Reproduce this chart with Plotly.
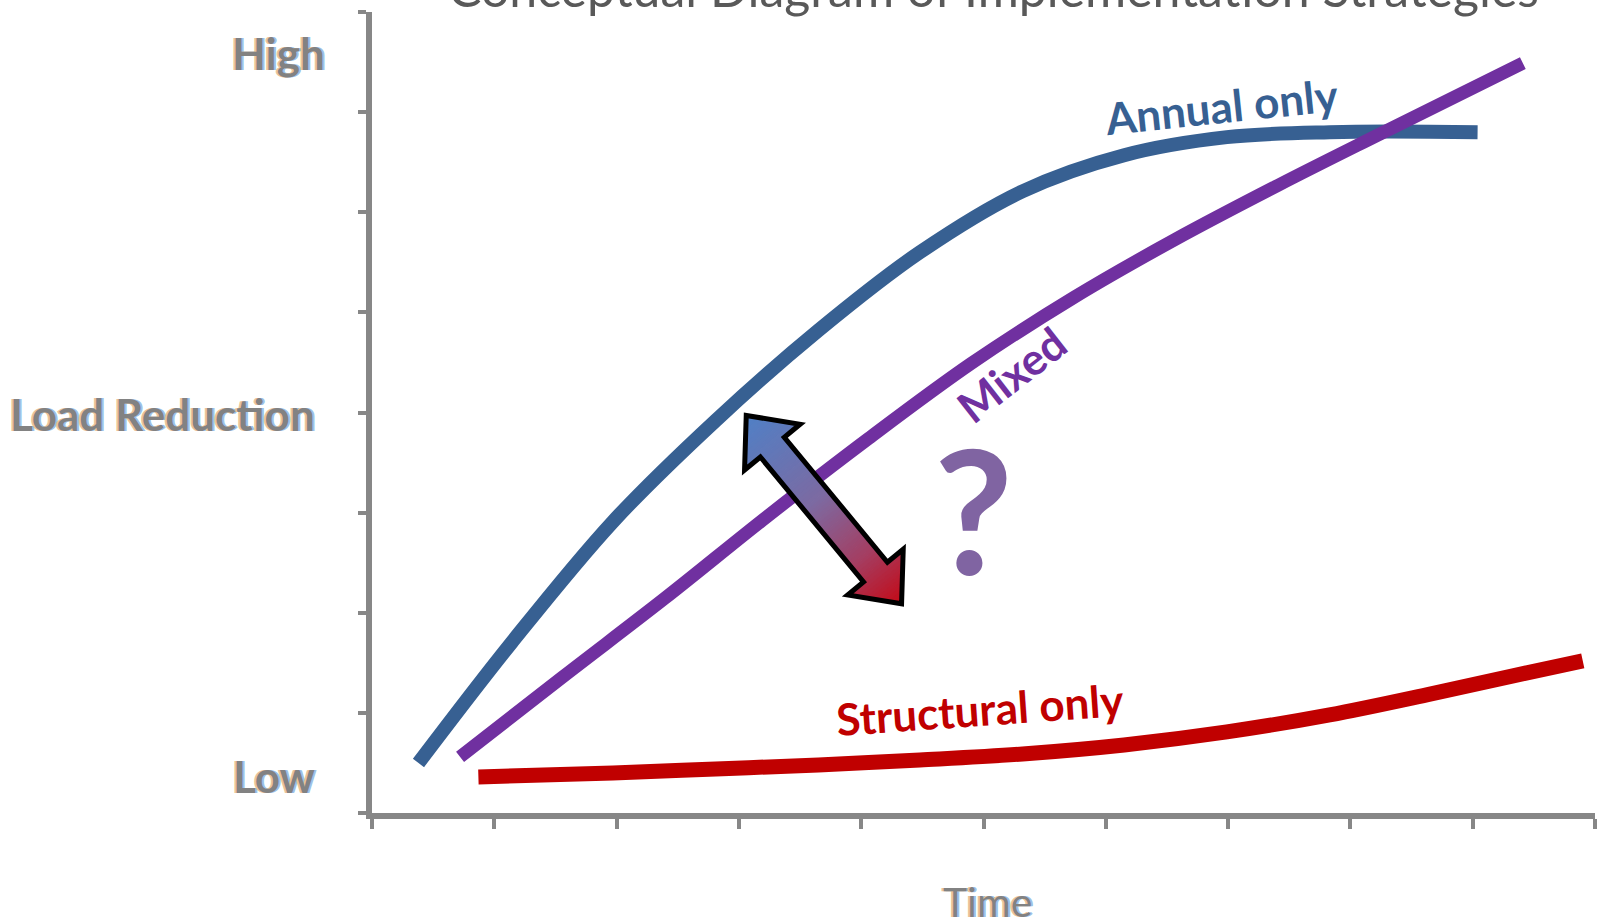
import plotly.graph_objects as go

# ---- canvas / plot area -------------------------------------------------
W, H = 1603, 920
M_L, M_R, M_T, M_B = 372, 8, 12, 107
X_RANGE = (0, 10)
Y_RANGE = (0, 8)

# ---- data ---------------------------------------------------------------
x_ticks = list(range(0, 11))
y_ticks = list(range(0, 9))

annual_x = [0.38, 1.14, 1.97, 2.81, 3.65, 4.48, 5.32, 6.15, 6.99, 7.83, 9.04]
annual_y = [0.50, 1.70, 2.91, 3.92, 4.82, 5.60, 6.21, 6.57, 6.75, 6.80, 6.80]

mixed_x = [0.72, 1.56, 2.39, 3.23, 4.06, 4.90, 5.74, 6.57, 7.41, 8.24, 9.41]
mixed_y = [0.56, 1.36, 2.14, 2.96, 3.74, 4.49, 5.15, 5.73, 6.27, 6.78, 7.49]

structural_x = [0.87, 1.97, 2.81, 3.65, 4.48, 5.32, 6.15, 6.99, 7.83, 8.66, 9.33, 9.90]
structural_y = [0.36, 0.40, 0.44, 0.48, 0.53, 0.59, 0.68, 0.81, 0.98, 1.19, 1.37, 1.52]

y_level_labels = ["High", "Load Reduction", "Low"]
y_level_pos = [7.59, 3.99, 0.37]
y_level_right_px = [327, 317, 317]

# double-headed arrow between the two strategy extremes (data units)
arrow_tip_a = (3.06, 3.97)
arrow_tip_b = (4.33, 2.09)

# ---- colours ------------------------------------------------------------
C_ANNUAL = "#376092"
C_MIXED = "#7030A0"
C_STRUCT = "#C00000"
C_QUESTION = "#8064A2"
C_AXIS = "#878787"
C_LABEL = "#828282"
C_TITLE = "#595959"
FONT = "Lato"
FRINGE = "-2px 0px 0px #EBC39A, 2px 0px 0px #9EC2E8"

fig = go.Figure()

series = [
    (annual_x, annual_y, C_ANNUAL, 14),
    (mixed_x, mixed_y, C_MIXED, 13),
    (structural_x, structural_y, C_STRUCT, 15),
]
for xs, ys, col, lw in series:
    fig.add_trace(go.Scatter(
        x=xs, y=ys, mode="lines",
        line=dict(color=col, width=lw, shape="spline", smoothing=1.0),
        hoverinfo="skip", showlegend=False,
    ))

# ---- gradient-filled double arrow -----------------------------------------
plot_w = W - M_L - M_R
plot_h = H - M_T - M_B
px_x = plot_w / (X_RANGE[1] - X_RANGE[0])
px_y = plot_h / (Y_RANGE[1] - Y_RANGE[0])


def to_px(x, y):
    return ((x - X_RANGE[0]) * px_x, -(y - Y_RANGE[0]) * px_y)


def to_data(px, py):
    return (px / px_x + X_RANGE[0], -py / px_y + Y_RANGE[0])


ax_, ay_ = to_px(*arrow_tip_a)
bx_, by_ = to_px(*arrow_tip_b)
L = ((bx_ - ax_) ** 2 + (by_ - ay_) ** 2) ** 0.5
ux, uy = (bx_ - ax_) / L, (by_ - ay_) / L
nx, ny = -uy, ux

HEAD_LEN, HEAD_HALF, SHAFT_HALF = 41.0, 36.0, 15.5
local_poly = [
    (0, 0), (HEAD_LEN, HEAD_HALF), (HEAD_LEN, SHAFT_HALF),
    (L - HEAD_LEN, SHAFT_HALF), (L - HEAD_LEN, HEAD_HALF), (L, 0),
    (L - HEAD_LEN, -HEAD_HALF), (L - HEAD_LEN, -SHAFT_HALF),
    (HEAD_LEN, -SHAFT_HALF), (HEAD_LEN, -HEAD_HALF),
]


def local_to_data(s, w):
    px = ax_ + s * ux + w * nx
    py = ay_ + s * uy + w * ny
    return to_data(px, py)


def clip(poly, s_lim, keep_greater):
    out = []
    n = len(poly)
    for i in range(n):
        p, q = poly[i], poly[(i + 1) % n]
        pin = p[0] >= s_lim if keep_greater else p[0] <= s_lim
        qin = q[0] >= s_lim if keep_greater else q[0] <= s_lim
        if pin:
            out.append(p)
        if pin != qin:
            t = (s_lim - p[0]) / (q[0] - p[0])
            out.append((s_lim, p[1] + t * (q[1] - p[1])))
    return out


def path_of(poly):
    pts = [local_to_data(s, w) for s, w in poly]
    return "M " + " L ".join(f"{x:.5f},{y:.5f}" for x, y in pts) + " Z"


grad_stops = [(0.0, (80, 128, 198)), (0.45, (124, 106, 162)),
              (0.75, (164, 62, 98)), (1.0, (196, 10, 22))]


def grad_color(t):
    for (t0, c0), (t1, c1) in zip(grad_stops[:-1], grad_stops[1:]):
        if t <= t1:
            f = (t - t0) / (t1 - t0)
            c = [round(a + (b - a) * f) for a, b in zip(c0, c1)]
            return f"rgb({c[0]},{c[1]},{c[2]})"
    c = grad_stops[-1][1]
    return f"rgb({c[0]},{c[1]},{c[2]})"


N_STRIPS = 70
for i in range(N_STRIPS):
    s0 = L * i / N_STRIPS
    s1 = min(L, L * (i + 1) / N_STRIPS + 0.8)
    piece = clip(clip(local_poly, s0, True), s1, False)
    if len(piece) < 3:
        continue
    fig.add_shape(type="path", path=path_of(piece), xref="x", yref="y",
                  fillcolor=grad_color((i + 0.5) / N_STRIPS),
                  line=dict(width=0), layer="above")

fig.add_shape(type="path", path=path_of(local_poly), xref="x", yref="y",
              fillcolor="rgba(0,0,0,0)", line=dict(color="black", width=5),
              layer="above")

# ---- text -----------------------------------------------------------------
ann = []

ann.append(dict(text="Conceptual Diagram of Implementation Strategies",
                x=0.508, y=0.990, xref="paper", yref="paper",
                xanchor="center", yanchor="bottom",
                showarrow=False, font=dict(family=FONT, size=50, color=C_TITLE)))

ann.append(dict(text="<b>Annual only</b>", x=6.95, y=7.06, xref="x", yref="y",
                textangle=-6, showarrow=False,
                font=dict(family=FONT, size=44, color=C_ANNUAL)))
ann.append(dict(text="<b>Mixed</b>", x=5.23, y=4.38, xref="x", yref="y",
                textangle=-38, showarrow=False,
                font=dict(family=FONT, size=44, color=C_MIXED)))
ann.append(dict(text="<b>Structural only</b>", x=4.97, y=1.04, xref="x", yref="y",
                textangle=-4, showarrow=False,
                font=dict(family=FONT, size=44, color=C_STRUCT)))
ann.append(dict(text="<b>?</b>", x=4.92, y=3.04, xref="x", yref="y",
                showarrow=False,
                font=dict(family=FONT, size=172, color=C_QUESTION)))

# value-axis level labels with a soft two-tone fringe
for txt, yv, xr in zip(y_level_labels, y_level_pos, y_level_right_px):
    ann.append(dict(text=f"<b>{txt}</b>", x=(xr - M_L) / plot_w, y=yv / Y_RANGE[1],
                    xref="paper", yref="paper",
                    xanchor="right", yanchor="middle", showarrow=False,
                    font=dict(family=FONT, size=44, color=C_LABEL, shadow=FRINGE)))

ann.append(dict(text="Time", x=0.503, y=-0.11, xref="paper", yref="paper",
                xanchor="center", yanchor="middle", showarrow=False,
                font=dict(family=FONT, size=41, color=C_LABEL, shadow=FRINGE)))

fig.update_layout(
    width=W, height=H, autosize=False,
    margin=dict(l=M_L, r=M_R, t=M_T, b=M_B, pad=0),
    paper_bgcolor="white", plot_bgcolor="white",
    annotations=ann,
    xaxis=dict(range=list(X_RANGE), tickvals=x_ticks, showticklabels=False,
               ticks="outside", ticklen=10, tickwidth=4, tickcolor=C_AXIS,
               showline=True, linecolor=C_AXIS, linewidth=6,
               showgrid=False, zeroline=False, fixedrange=True),
    yaxis=dict(range=list(Y_RANGE), tickvals=y_ticks, showticklabels=False,
               ticks="outside", ticklen=8, tickwidth=4, tickcolor=C_AXIS,
               showline=True, linecolor=C_AXIS, linewidth=6,
               showgrid=False, zeroline=False, fixedrange=True),
    showlegend=False,
)

fig.write_html("out.html", config={"displayModeBar": False})
